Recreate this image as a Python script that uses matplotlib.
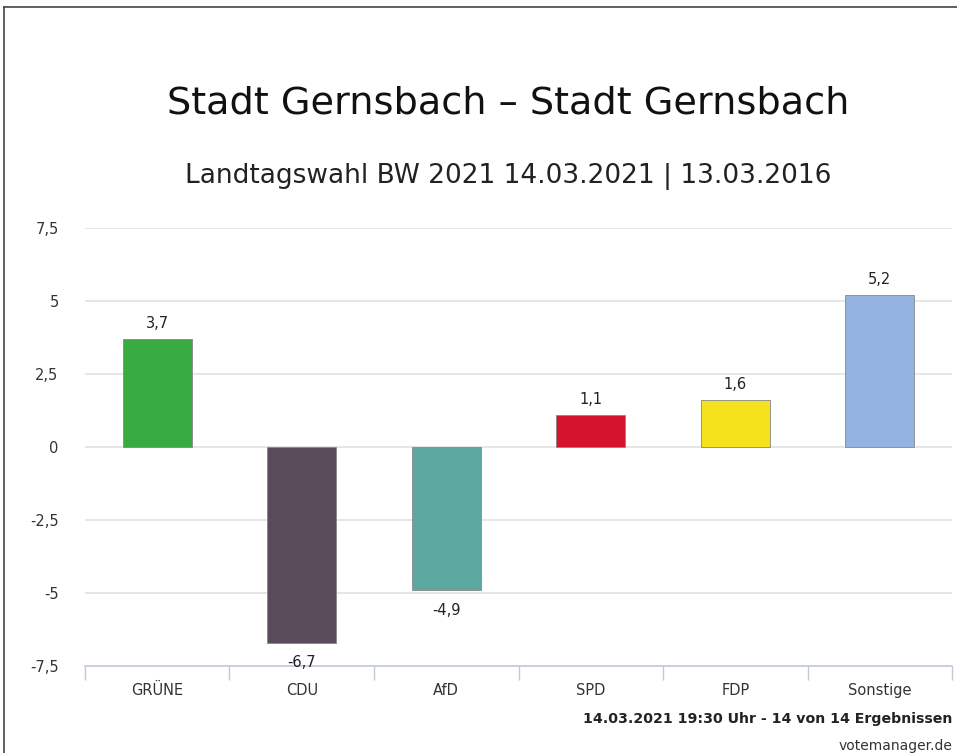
import matplotlib
matplotlib.use("Agg")
import matplotlib.pyplot as plt
from matplotlib.lines import Line2D

categories = ["GRÜNE", "CDU", "AfD", "SPD", "FDP", "Sonstige"]
values = [3.7, -6.7, -4.9, 1.1, 1.6, 5.2]
colors = ["#38ab42", "#5a4b5b", "#5aa8a0", "#d5132e", "#f6e21c", "#94b3e0"]
yticks = [-7.5, -5, -2.5, 0, 2.5, 5, 7.5]
ytick_labels = ["-7,5", "-5", "-2,5", "0", "2,5", "5", "7,5"]
value_labels = ["3,7", "-6,7", "-4,9", "1,1", "1,6", "5,2"]

plt.rcParams['font.family'] = ['DejaVu Sans']

fig = plt.figure(figsize=(9.57, 7.53), dpi=100)
ax = fig.add_axes([0.0888, 0.1155, 0.906, 0.5817])

x = list(range(len(categories)))
ax.bar(x, values, width=0.48, color=colors, edgecolor="#888888", linewidth=0.6, zorder=3)

ax.set_xlim(-0.5, len(categories) - 0.5)
ax.set_ylim(-7.5, 7.5)
ax.set_yticks(yticks)
ax.set_yticklabels(ytick_labels, fontsize=10.5, color="#333333")
ax.tick_params(axis='y', length=0, pad=19)

ax.set_xticks(x)
ax.set_xticklabels(categories, fontsize=10.5, color="#333333")
ax.tick_params(axis='x', length=0, pad=12)
# category boundary ticks
ax.set_xticks([i - 0.5 for i in range(len(categories) + 1)], minor=True)
ax.tick_params(axis='x', which='minor', length=10, color="#c0c8d8", width=1)

for t in yticks:
    if t != -7.5:
        ax.axhline(t, color="#e2e2e2", linewidth=1.2, zorder=1)

for s in ["top", "right", "left"]:
    ax.spines[s].set_visible(False)
ax.spines["bottom"].set_color("#c0c8d8")
ax.spines["bottom"].set_linewidth(1.2)

for xi, v, lab in zip(x, values, value_labels):
    if v >= 0:
        ax.annotate(lab, (xi, v), xytext=(0, 6), textcoords="offset points",
                    ha="center", va="bottom", fontsize=10.5, color="#222222")
    else:
        ax.annotate(lab, (xi, v), xytext=(0, -9), textcoords="offset points",
                    ha="center", va="top", fontsize=10.5, color="#222222")

fig.text(0.531, 1 - 103 / 753, "Stadt Gernsbach – Stadt Gernsbach", ha="center", va="center",
         fontsize=27.5, color="#111111")
fig.text(0.531, 1 - 176 / 753, "Landtagswahl BW 2021 14.03.2021 | 13.03.2016", ha="center", va="center",
         fontsize=19, color="#222222")
fig.text(0.995, 1 - 719 / 753, "14.03.2021 19:30 Uhr - 14 von 14 Ergebnissen", ha="right", va="center",
         fontsize=10.2, fontweight="bold", color="#222222")
fig.text(0.995, 1 - 746 / 753, "votemanager.de", ha="right", va="center",
         fontsize=10, color="#333333")

# frame lines
fig.add_artist(Line2D([4 / 957, 4 / 957], [0, 1 - 7 / 753], transform=fig.transFigure, color="#444444", linewidth=1.2))
fig.add_artist(Line2D([4 / 957, 1], [1 - 7 / 753, 1 - 7 / 753], transform=fig.transFigure, color="#444444", linewidth=1.2))

fig.savefig("out.png", dpi=100)
